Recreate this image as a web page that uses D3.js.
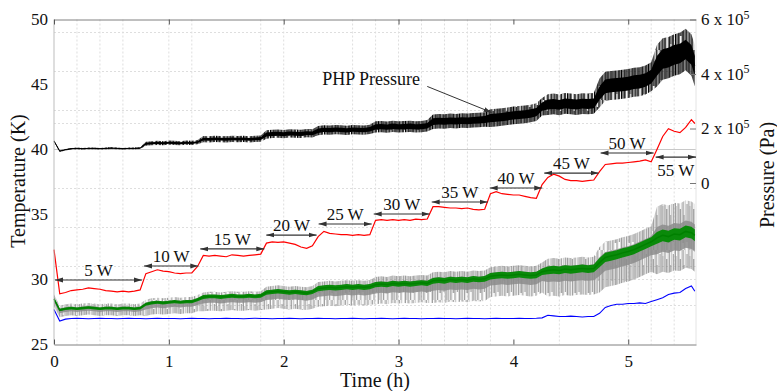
<!DOCTYPE html>
<html>
<head>
<meta charset="utf-8">
<script src="https://cdn.jsdelivr.net/npm/d3@7"></script>
<style>
  body { margin: 0; background: #fff; }
  svg { display: block; font-family: "Liberation Serif", serif; }
</style>
</head>
<body>
<svg id="chart" width="777" height="391"></svg>
<script>
// sampling grid (h)
const time = d3.range(112).map(i => +(i * 0.05).toFixed(2)).concat([5.58]);

// temperatures (K)
const redT = [
  32.3, 28.9, 29.0, 29.15, 29.2, 29.25, 29.35, 29.3, 29.25, 29.15,
  29.1, 29.05, 29.1, 29.05, 29.1, 29.2, 30.45, 30.6, 30.75, 30.65,
  30.6, 30.5, 30.45, 30.5, 30.5, 31.0, 31.85, 31.8, 31.85, 31.8,
  31.75, 31.9, 31.85, 31.8, 31.85, 31.9, 31.95, 32.8, 32.9, 32.85,
  32.9, 32.8, 32.7, 32.5, 32.4, 32.6, 33.3, 33.7, 33.55, 33.5,
  33.45, 33.45, 33.4, 33.45, 33.4, 33.45, 34.55, 34.6, 34.55, 34.6,
  34.55, 34.6, 34.55, 34.65, 34.6, 34.65, 35.6, 35.6, 35.55, 35.5,
  35.5, 35.45, 35.5, 35.4, 35.35, 35.4, 36.6, 36.75, 36.6, 36.55,
  36.5, 36.5, 36.4, 36.3, 36.25, 37.3, 37.85, 38.1, 37.95, 37.7,
  37.6, 37.6, 37.55, 37.6, 37.65, 38.3, 38.85, 38.9, 38.95, 38.95,
  39.0, 39.05, 39.1, 39.2, 39.05, 40.0, 41.0, 41.6, 41.4, 41.3,
  41.7, 42.3, 42.0
];
const greenT = [
  28.5, 27.65, 27.75, 27.8, 27.75, 27.8, 27.85, 27.8, 27.75, 27.8,
  27.8, 27.75, 27.8, 27.8, 27.75, 27.8, 28.1, 28.2, 28.25, 28.2,
  28.25, 28.3, 28.25, 28.3, 28.3, 28.45, 28.65, 28.7, 28.7, 28.65,
  28.7, 28.75, 28.7, 28.7, 28.75, 28.7, 28.75, 29.0, 29.05, 29.1,
  29.05, 29.0, 29.05, 29.0, 28.95, 29.05, 29.3, 29.35, 29.4, 29.35,
  29.4, 29.45, 29.4, 29.45, 29.4, 29.45, 29.6, 29.65, 29.6, 29.7,
  29.65, 29.7, 29.65, 29.7, 29.75, 29.7, 29.9, 29.95, 29.9, 30.0,
  29.95, 30.0, 29.95, 30.05, 30.0, 30.05, 30.25, 30.3, 30.35, 30.3,
  30.35, 30.4, 30.35, 30.3, 30.35, 30.6, 30.7, 30.75, 30.7, 30.8,
  30.75, 30.8, 30.85, 30.8, 30.85, 31.3, 31.7, 31.8, 31.9, 32.05,
  32.15, 32.3, 32.5, 32.7, 32.9, 33.2, 33.4, 33.3, 33.5, 33.45,
  33.7, 33.6, 33.4
];
const blueT = [
  27.7, 26.8, 26.95, 27.0, 27.02, 27.0, 26.98, 27.0, 27.02, 27.0,
  27.0, 26.98, 27.0, 27.02, 27.0, 27.0, 26.98, 27.0, 27.02, 27.0,
  27.0, 27.0, 26.98, 27.0, 27.02, 27.0, 27.0, 26.98, 27.0, 27.0,
  27.02, 27.0, 27.0, 26.98, 27.0, 27.02, 27.0, 27.0, 26.98, 27.0,
  27.0, 27.02, 27.0, 26.98, 27.0, 27.0, 27.02, 27.0, 27.0, 26.98,
  27.0, 27.0, 27.02, 27.0, 26.98, 27.0, 27.0, 27.02, 27.0, 26.98,
  27.0, 27.02, 27.0, 27.0, 26.98, 27.0, 27.0, 27.02, 27.0, 27.0,
  26.98, 27.0, 27.02, 27.0, 27.0, 26.98, 27.0, 27.02, 27.0, 27.0,
  27.0, 27.02, 27.0, 27.0, 27.02, 27.05, 27.25, 27.2, 27.15, 27.15,
  27.18, 27.15, 27.12, 27.15, 27.15, 27.4, 27.85, 28.0, 28.1, 28.1,
  28.15, 28.15, 28.2, 28.15, 28.3, 28.45, 28.6, 28.85, 28.95, 29.0,
  29.3, 29.5, 29.1
];
// PHP pressure (x 10^5 Pa)
const pressure = [
  1.54, 1.17, 1.22, 1.26, 1.27, 1.26, 1.27, 1.27, 1.26, 1.27,
  1.28, 1.27, 1.26, 1.27, 1.27, 1.28, 1.44, 1.46, 1.47, 1.46,
  1.48, 1.47, 1.46, 1.48, 1.47, 1.50, 1.61, 1.60, 1.62, 1.61,
  1.60, 1.62, 1.61, 1.62, 1.60, 1.62, 1.63, 1.78, 1.80, 1.81,
  1.79, 1.82, 1.81, 1.80, 1.83, 1.82, 1.92, 1.95, 1.94, 1.96,
  1.95, 1.93, 1.96, 1.95, 1.94, 1.97, 2.06, 2.07, 2.05, 2.08,
  2.06, 2.07, 2.08, 2.06, 2.07, 2.10, 2.25, 2.27, 2.26, 2.28,
  2.27, 2.29, 2.28, 2.30, 2.31, 2.33, 2.38, 2.40, 2.42, 2.45,
  2.48, 2.50, 2.52, 2.55, 2.60, 2.80, 2.88, 2.90, 2.87, 2.92,
  2.90, 2.88, 2.91, 2.90, 2.92, 3.30, 3.55, 3.58, 3.60, 3.62,
  3.65, 3.70, 3.72, 3.78, 3.90, 4.30, 4.55, 4.60, 4.70, 4.75,
  4.90, 4.70, 4.30
];

// heater power steps
const powers = ['5 W', '10 W', '15 W', '20 W', '25 W', '30 W', '35 W', '40 W', '45 W', '50 W', '55 W'];
const stepTimes = [0, 0.775, 1.265, 1.84, 2.295, 2.775, 3.28, 3.785, 4.26, 4.75, 5.23, 5.59];
const labelLevels = [29.96, 31.04, 32.35, 33.42, 34.27, 35.04, 35.96, 37.04, 38.19, 39.73, 39.42];

// noise spread read per power step
const pressureNoise = [0.015, 0.04, 0.06, 0.08, 0.09, 0.11, 0.14, 0.17, 0.2, 0.28, 0.4];
const greenNoise = [0.1, 0.12, 0.15, 0.17, 0.2, 0.2, 0.22, 0.25, 0.3, 0.35, 0.45];
const grayDown = [0.55, 0.9, 1.1, 1.3, 1.4, 1.5, 1.7, 1.6, 2.0, 2.3, 2.8];
const grayUp = [0.35, 0.35, 0.35, 0.45, 0.5, 0.6, 0.65, 0.7, 0.9, 1.2, 2.4];

const tempTicks = [25, 30, 35, 40, 45, 50];
const timeTicks = [0, 1, 2, 3, 4, 5];
const pressTicks = [0, 2, 4, 6];
const hGrid = [28, 30, 31, 34, 37, 42, 43, 46, 49];
const vGrid = [0.2, 0.4, 0.6, 1.0, 1.2, 1.8, 2.0, 2.6, 2.8, 3.0, 3.2, 3.4, 3.6, 3.8, 4.4, 5.0, 5.2, 5.4];

const svg = d3.select('#chart');
const x = d3.scaleLinear().domain([0, 5.59]).range([54, 696]);
const yT = d3.scaleLinear().domain([25, 50]).range([344.5, 19.5]);
const yP = d3.scaleLinear().domain([0, 6]).range([183, 19.5]);

const bounds = stepTimes.slice(1, -1);
const seg = t => d3.bisectRight(bounds, t);

const defs = svg.append('defs');

// hatch textures for the noisy envelopes: [x, width, y, height, opacity]
const grayStrokes = [
  [0, 0.8, 0, 50, 1], [1.4, 0.6, 6, 44, 0.7], [2.5, 1.0, 0, 50, 1], [3.9, 0.5, 0, 31, 0.8],
  [4.9, 0.9, 9, 41, 1], [6.3, 0.6, 0, 50, 0.6], [7.4, 1.1, 0, 43, 1], [8.9, 0.7, 15, 35, 0.8],
  [10.1, 0.6, 0, 50, 0.9], [11.4, 0.9, 4, 38, 1], [12.6, 0.5, 0, 50, 0.6]
];
const blackStrokes = [
  [0, 1.1, 0, 50, 1], [1.5, 0.8, 0, 50, 1], [2.7, 1.0, 7, 43, 1], [4.0, 0.7, 0, 50, 0.9],
  [5.1, 1.2, 0, 36, 1], [6.6, 0.8, 11, 39, 1], [7.8, 1.0, 0, 50, 1], [9.2, 0.7, 0, 44, 0.9],
  [10.3, 1.1, 5, 45, 1], [11.8, 0.8, 0, 50, 1], [12.9, 0.6, 0, 30, 0.8]
];
function hatch(id, color, strokes) {
  const p = defs.append('pattern')
    .attr('id', id).attr('patternUnits', 'userSpaceOnUse')
    .attr('width', 13.5).attr('height', 50);
  p.selectAll('rect').data(strokes).enter().append('rect')
    .attr('x', d => d[0]).attr('width', d => d[1])
    .attr('y', d => d[2]).attr('height', d => d[3])
    .attr('fill', color).attr('fill-opacity', d => d[4]);
}
hatch('grayHatch', '#8a8a8a', grayStrokes);
hatch('blackHatch', '#000', blackStrokes);

// grid
svg.append('g').selectAll('line')
  .data(hGrid).enter().append('line')
  .attr('x1', 54).attr('x2', 696)
  .attr('y1', d => yT(d)).attr('y2', d => yT(d))
  .attr('stroke', '#dedede').attr('stroke-dasharray', '2,2');
svg.append('g').selectAll('line')
  .data(vGrid).enter().append('line')
  .attr('y1', 19.5).attr('y2', 344.5)
  .attr('x1', d => x(d)).attr('x2', d => x(d))
  .attr('stroke', '#dedede').attr('stroke-dasharray', '2,2');
svg.append('line')
  .attr('x1', 54).attr('x2', 696).attr('y1', yT(40)).attr('y2', yT(40))
  .attr('stroke', '#c8c8c8');

const data = time.map((t, i) => ({
  t: t, k: seg(t), red: redT[i], green: greenT[i], blue: blueT[i], p: pressure[i]
}));

// gray sensor: noisy trace around the green one
svg.append('path').datum(data)
  .attr('fill', 'url(#grayHatch)')
  .attr('d', d3.area().x(d => x(d.t))
    .y0(d => yT(d.green - grayDown[d.k]))
    .y1(d => yT(d.green + grayUp[d.k])));
svg.append('path').datum(data)
  .attr('fill', '#8c8c8c').attr('fill-opacity', 0.85)
  .attr('d', d3.area().x(d => x(d.t))
    .y0(d => yT(d.green - grayDown[d.k] * 0.45))
    .y1(d => yT(d.green + grayUp[d.k] * 0.35)));

// green
svg.append('path').datum(data)
  .attr('fill', '#0a8a0a')
  .attr('d', d3.area().x(d => x(d.t))
    .y0(d => yT(d.green - greenNoise[d.k]))
    .y1(d => yT(d.green + greenNoise[d.k])));
svg.append('path').datum(data)
  .attr('fill', 'none').attr('stroke', '#008000').attr('stroke-width', 1.5)
  .attr('d', d3.line().x(d => x(d.t)).y(d => yT(d.green)));

// blue
svg.append('path').datum(data)
  .attr('fill', 'none').attr('stroke', '#0000ff').attr('stroke-width', 1.1)
  .attr('d', d3.line().x(d => x(d.t)).y(d => yT(d.blue)));

// red
svg.append('path').datum(data)
  .attr('fill', 'none').attr('stroke', '#ff0000').attr('stroke-width', 1.2)
  .attr('d', d3.line().x(d => x(d.t)).y(d => yT(d.red)));

// PHP pressure
svg.append('path').datum(data)
  .attr('fill', 'url(#blackHatch)')
  .attr('d', d3.area().x(d => x(d.t))
    .y0(d => yP(d.p - pressureNoise[d.k] * 1.9))
    .y1(d => yP(d.p + pressureNoise[d.k] * 1.9)));
svg.append('path').datum(data)
  .attr('fill', '#000')
  .attr('d', d3.area().x(d => x(d.t))
    .y0(d => yP(d.p - pressureNoise[d.k] * 0.9))
    .y1(d => yP(d.p + pressureNoise[d.k] * 0.9)));
svg.append('path').datum(data)
  .attr('fill', 'none').attr('stroke', '#000').attr('stroke-width', 1)
  .attr('d', d3.line().x(d => x(d.t)).y(d => yP(d.p)));

// frame
svg.append('line').attr('x1', 54).attr('x2', 54).attr('y1', 19.5).attr('y2', 344.5).attr('stroke', '#bdbdbd');
svg.append('line').attr('x1', 696).attr('x2', 696).attr('y1', 19.5).attr('y2', 344.5).attr('stroke', '#e4e4e4');

// axes
const xBottom = svg.append('g').attr('transform', 'translate(0,344.5)')
  .call(d3.axisBottom(x).tickValues(timeTicks).tickFormat(d3.format('d'))
    .tickSize(-5).tickSizeOuter(0).tickPadding(10));
const xTop = svg.append('g').attr('transform', 'translate(0,19.5)')
  .call(d3.axisTop(x).tickValues(timeTicks).tickSize(-5).tickSizeOuter(0).tickFormat(''));
const yLeft = svg.append('g').attr('transform', 'translate(54,0)')
  .call(d3.axisLeft(yT).tickValues(tempTicks).tickSize(0).tickPadding(6));
yLeft.select('.domain').remove();
const yRight = svg.append('g').attr('transform', 'translate(696,0)')
  .call(d3.axisRight(yP).tickValues(pressTicks).tickSize(-6).tickSizeOuter(0).tickPadding(5).tickFormat(''));
yRight.select('.domain').remove();

[xBottom, xTop].forEach(g => {
  g.select('.domain').attr('stroke', '#808080');
  g.selectAll('.tick line').attr('stroke', '#555');
});
yRight.selectAll('.tick line').attr('stroke', '#777');
[xBottom, yLeft].forEach(g => g.selectAll('text')
  .attr('font-family', '"Liberation Serif", serif').attr('font-size', 17).attr('fill', '#111'));

// pressure tick labels with superscript exponent
yRight.selectAll('.tick text').each(function (d) {
  const t = d3.select(this)
    .attr('font-family', '"Liberation Serif", serif').attr('font-size', 17).attr('fill', '#111');
  if (d === 0) { t.text('0'); return; }
  t.append('tspan').text(d + ' x 10');
  t.append('tspan').attr('font-size', 12).attr('dy', '-0.55em').text('5');
});

// axis titles
svg.append('text')
  .attr('x', 375).attr('y', 387).attr('text-anchor', 'middle')
  .attr('font-size', 20).attr('fill', '#111').text('Time (h)');
svg.append('text')
  .attr('transform', 'translate(25,181) rotate(-90)').attr('text-anchor', 'middle')
  .attr('font-size', 20).attr('fill', '#111').text('Temperature (K)');
svg.append('text')
  .attr('transform', 'translate(774,175) rotate(-90)').attr('text-anchor', 'middle')
  .attr('font-size', 20).attr('fill', '#111').text('Pressure (Pa)');

// arrowheads
defs.append('marker')
  .attr('id', 'head').attr('viewBox', '0 0 8 6')
  .attr('refX', 8).attr('refY', 3)
  .attr('markerWidth', 8).attr('markerHeight', 6)
  .attr('markerUnits', 'userSpaceOnUse')
  .attr('orient', 'auto-start-reverse')
  .append('path').attr('d', 'M0,0.6L8,3L0,5.4Z').attr('fill', '#333');

// power step annotations
const ann = svg.append('g');
powers.forEach((p, i) => {
  const x0 = x(stepTimes[i]) + 1;
  const x1 = x(stepTimes[i + 1]) - (i === powers.length - 1 ? 0 : 1);
  const yy = yT(labelLevels[i]);
  ann.append('line')
    .attr('x1', x0).attr('x2', x1).attr('y1', yy).attr('y2', yy)
    .attr('stroke', '#333').attr('stroke-width', 1.2)
    .attr('marker-start', 'url(#head)').attr('marker-end', 'url(#head)');
  ann.append('text')
    .attr('x', (x0 + x1) / 2)
    .attr('y', i === powers.length - 1 ? yy + 19 : yy - 4)
    .attr('text-anchor', 'middle')
    .attr('font-size', 17).attr('fill', '#111')
    .text(p);
});

// PHP Pressure callout
svg.append('text')
  .attr('x', x(2.335)).attr('y', yT(44.96))
  .attr('font-size', 18).attr('fill', '#111').text('PHP Pressure');
svg.append('line')
  .attr('x1', x(3.25)).attr('y1', yT(44.85))
  .attr('x2', x(3.81)).attr('y2', yT(42.85))
  .attr('stroke', '#333').attr('stroke-width', 1)
  .attr('marker-end', 'url(#head)');
</script>
</body>
</html>
